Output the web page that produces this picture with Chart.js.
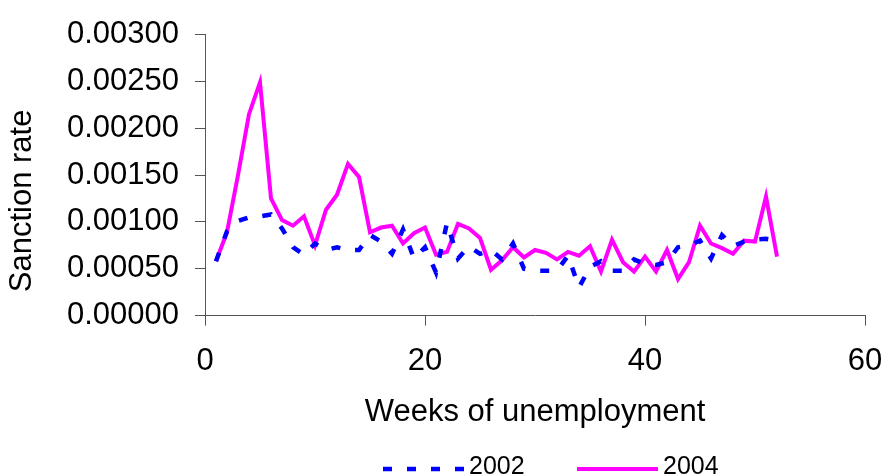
<!DOCTYPE html>
<html>
<head>
<meta charset="utf-8">
<title>Sanction rate</title>
<script src="https://cdn.jsdelivr.net/npm/chart.js@4.4.0/dist/chart.umd.min.js"></script>
<style>
  html, body { margin: 0; padding: 0; background: #fff; }
  #wrap { width: 884px; height: 475px; }
</style>
</head>
<body>
<div id="wrap"><canvas id="chart"></canvas></div>
<script>
const weeks = [
  1, 2, 3, 4, 5, 6, 7, 8, 9, 10, 11, 12, 13, 14, 15, 16, 17, 18, 19, 20, 21, 22, 23, 24, 25, 26,
  27, 28, 29, 30, 31, 32, 33, 34, 35, 36, 37, 38, 39, 40, 41, 42, 43, 44, 45, 46, 47, 48, 49, 50, 51, 52,
]
const rate2002 = [
  0.00058, 0.0009, 0.00101, 0.00105, 0.00106, 0.00108, 0.00093, 0.00073, 0.00065, 0.00077,
  0.0007, 0.00073, 0.0007, 0.0007, 0.00086, 0.00079, 0.00066, 0.00092, 0.00061, 0.00073,
  0.00046, 0.00099, 0.00061, 0.00074, 0.00066, 0.0007, 0.0006, 0.00077, 0.0005, 0.00048,
  0.00048, 0.00048, 0.00064, 0.0003, 0.00052, 0.00058, 0.00048, 0.00048, 0.0006, 0.00055,
  0.00054, 0.00057, 0.00073, 0.00075, 0.0008, 0.00061, 0.00086, 0.00074, 0.00079, 0.00081,
  0.00082, 0.0008,
]
const rate2004 = [
  0.00058, 0.00089, 0.0015, 0.00215, 0.00249, 0.00125, 0.00102, 0.00096, 0.00106, 0.00075,
  0.00113, 0.00129, 0.00162, 0.00148, 0.00089, 0.00094, 0.00096, 0.00077, 0.00088, 0.00094,
  0.00065, 0.00068, 0.00098, 0.00093, 0.00083, 0.00049, 0.00059, 0.00073, 0.00062, 0.0007,
  0.00067, 0.0006, 0.00068, 0.00064, 0.00074, 0.00047, 0.00081, 0.00057, 0.00047, 0.00063,
  0.00047, 0.0007, 0.00039, 0.00057, 0.00096, 0.00077, 0.00072, 0.00066, 0.0008, 0.00079,
  0.00127, 0.00063,
]
const xTicks = [0, 20, 40, 60]
const yTicks = [0, 0.0005, 0.001, 0.0015, 0.002, 0.0025, 0.003]

const FONT = "'Liberation Sans', Arial, sans-serif"
const AXIS_GREY = '#555'

Chart.defaults.font.family = FONT
Chart.defaults.color = '#000'

const toPoints = (values) => values.map((v, i) => ({ x: weeks[i], y: v }))

// legend drawn below the axis title, line samples like the original
const lineLegend = {
  id: 'lineLegend',
  afterDraw(chart) {
    const ctx = chart.ctx
    const y = 469
    const starts = [383, 577]
    chart.data.datasets.forEach((ds, i) => {
      const x = starts[i]
      ctx.save()
      ctx.strokeStyle = ds.borderColor
      ctx.lineWidth = ds.borderWidth
      ctx.setLineDash(ds.borderDash || [])
      ctx.beginPath()
      ctx.moveTo(x, y)
      ctx.lineTo(x + 81, y)
      ctx.stroke()
      ctx.setLineDash([])
      ctx.fillStyle = '#000'
      ctx.font = `25px ${FONT}`
      ctx.textBaseline = 'middle'
      ctx.fillText(ds.label, x + 86, y - 2)
      ctx.restore()
    })
  },
}

new Chart(document.getElementById('chart'), {
  type: 'line',
  data: {
    datasets: [
      {
        label: '2002',
        data: toPoints(rate2002),
        borderColor: '#0000ff',
        borderWidth: 4.5,
        borderDash: [9, 15],
        pointRadius: 0,
        tension: 0,
        fill: false,
      },
      {
        label: '2004',
        data: toPoints(rate2004),
        borderColor: '#ff00ff',
        borderWidth: 4,
        pointRadius: 0,
        tension: 0,
        fill: false,
      },
    ],
  },
  options: {
    responsive: true,
    maintainAspectRatio: false,
    animation: false,
    layout: {
      padding: { top: 13.4, right: 19, bottom: 44, left: 0 },
    },
    plugins: {
      legend: { display: false },
      tooltip: { enabled: false },
    },
    scales: {
      x: {
        type: 'linear',
        min: 0,
        max: 60,
        afterBuildTicks: (scale) => {
          scale.ticks = xTicks.map((v) => ({ value: v }))
        },
        afterFit: (scale) => {
          scale.paddingLeft = 0
          scale.paddingRight = 0
        },
        ticks: {
          font: { size: 31 },
          color: '#000',
          padding: 17,
          maxRotation: 0,
          callback: (value) => `${value}`,
        },
        grid: {
          drawOnChartArea: false,
          drawTicks: true,
          tickLength: 10,
          color: AXIS_GREY,
        },
        border: { color: AXIS_GREY, width: 1 },
        title: {
          display: true,
          text: 'Weeks of unemployment',
          font: { size: 31 },
          color: '#000',
          padding: { top: -3, bottom: 0 },
        },
      },
      y: {
        min: 0,
        max: 0.003,
        afterBuildTicks: (scale) => {
          scale.ticks = yTicks.map((v) => ({ value: v }))
        },
        afterFit: (scale) => {
          scale.width = 205
        },
        ticks: {
          font: { size: 31 },
          color: '#000',
          padding: 16,
          callback: (value) => value.toFixed(5),
        },
        grid: {
          drawOnChartArea: false,
          drawTicks: true,
          tickLength: 10,
          color: AXIS_GREY,
        },
        border: { color: AXIS_GREY, width: 1 },
        title: {
          display: true,
          text: 'Sanction rate      ',
          font: { size: 31 },
          color: '#000',
          padding: { top: 4, bottom: 0 },
        },
      },
    },
  },
  plugins: [lineLegend],
})
</script>
</body>
</html>
